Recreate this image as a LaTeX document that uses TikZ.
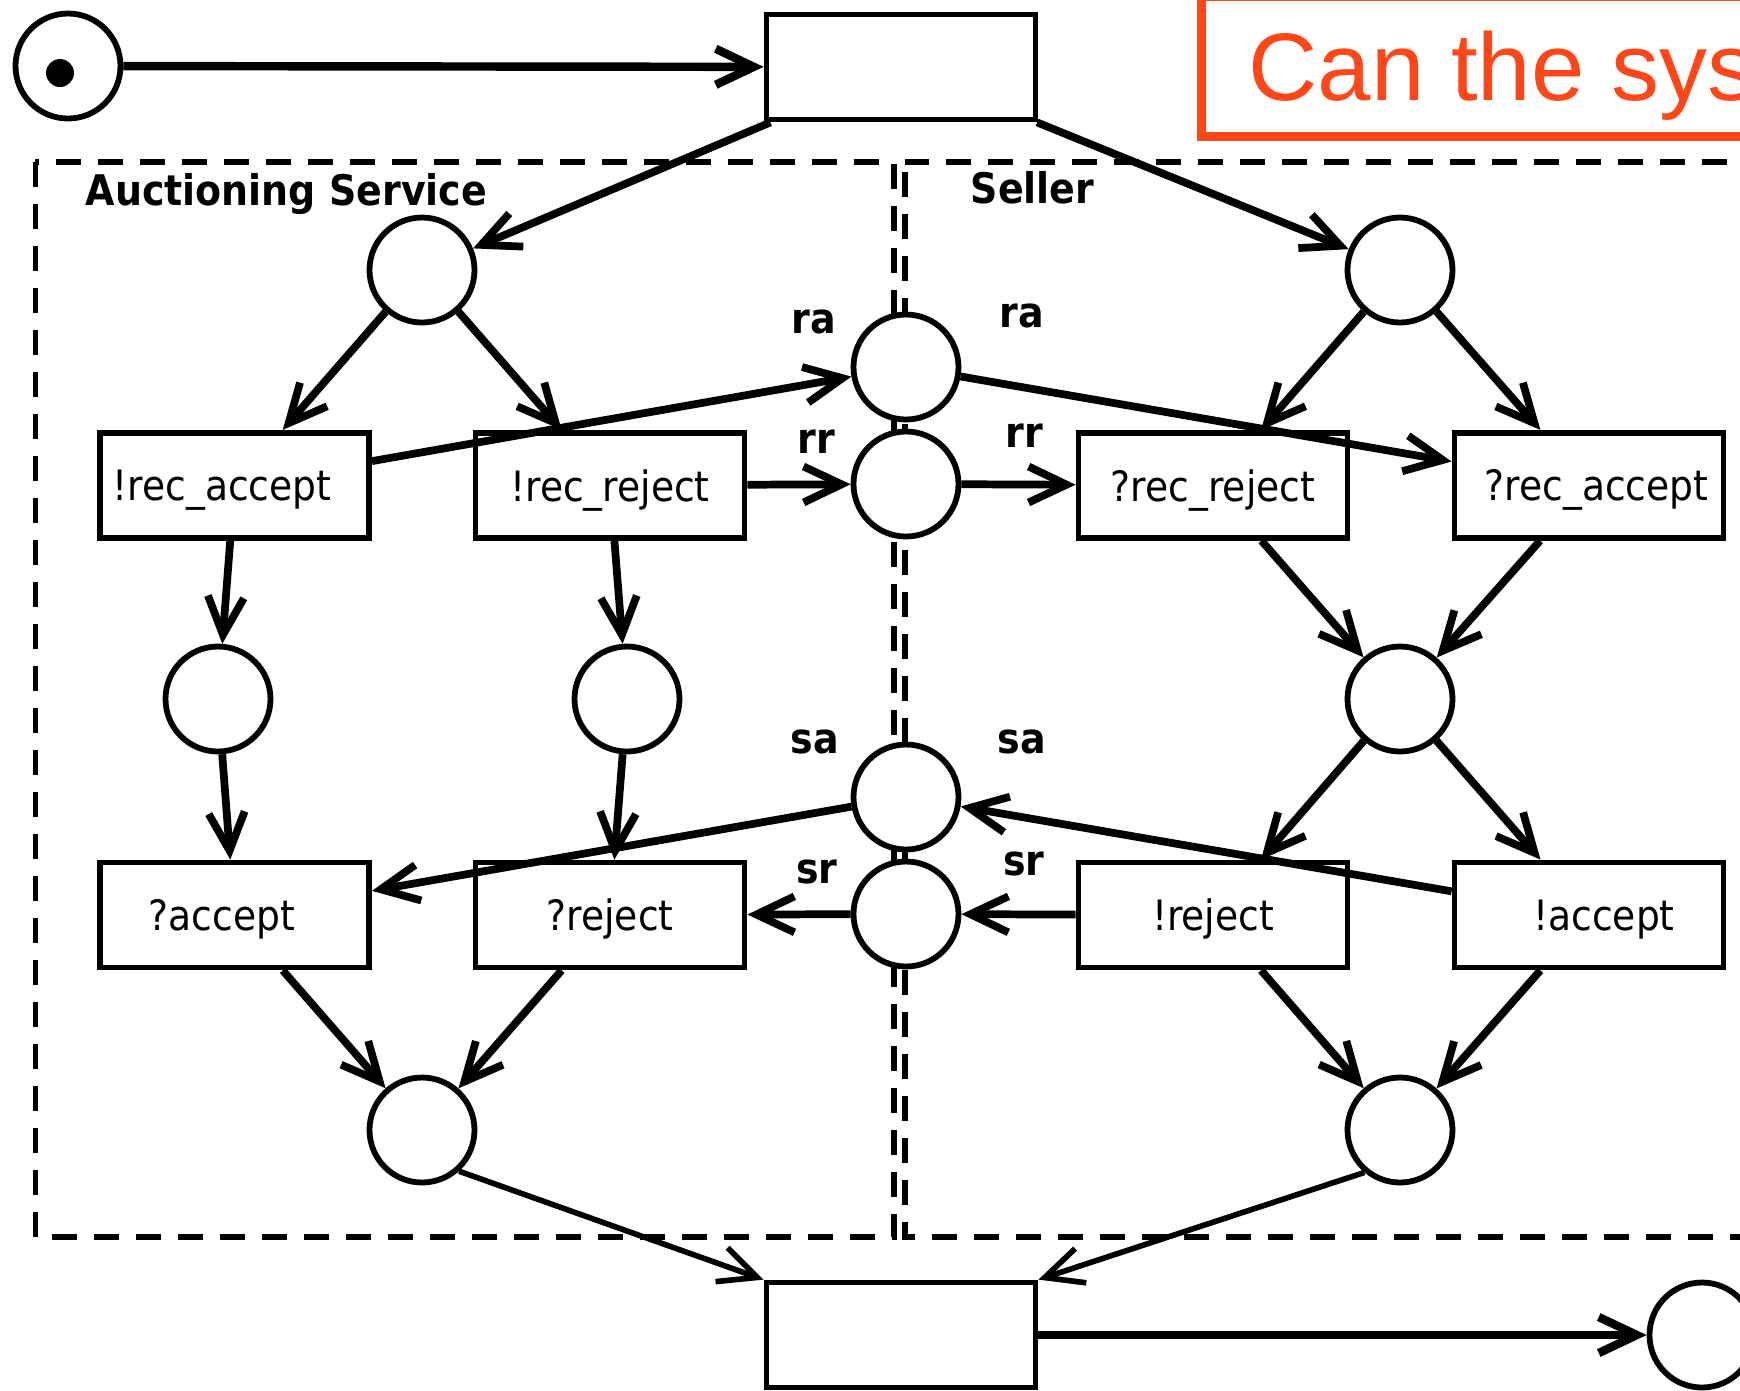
\documentclass[tikz,border=0pt]{standalone}
\usepackage{fontspec}
\usetikzlibrary{arrows.meta}
\newfontfamily\netfont[FakeStretch=0.9]{DejaVu Sans}
\newfontfamily\askfont{Liberation Sans}
\definecolor{askred}{RGB}{255,70,25}

\begin{document}
\begin{tikzpicture}[
        place/.style={draw,circle,line width=1.65pt,fill=white,minimum size=1.05cm,inner sep=0pt},
        trans/.style={draw,rectangle,line width=1.65pt,fill=white,minimum width=2.69cm,minimum height=1.05cm,inner sep=0pt,text depth=0pt,font=\netfont\fontsize{11.9}{14}\selectfont},
        arc/.style={line width=2.2pt,-{Straight Barb[length=3.8mm,width=3.6mm]}},
        chan/.style={font=\netfont\bfseries\fontsize{12}{14}\selectfont,anchor=base},
        part/.style={line width=1.5pt,dash pattern=on 0.25cm off 0.17cm}
    ]
        \path[use as bounding box,clip] (0,0) rectangle (17.40,-13.90);

        % question box
        \draw[askred,line width=0.09cm] (12.015,0.04) rectangle (18,-1.36);
        \node[anchor=base west,text=askred,inner sep=0pt,font=\askfont\fontsize{27.3}{30}\selectfont] (ask) at (12.48,-1.00) {Can the sys};

        % the two partners
        \draw[part] (0.355,-1.62) rectangle (8.94,-12.37);
        \draw[part,dash phase=0.32cm] (9.05,-1.62) rectangle (18,-12.37);
        \node[chan,anchor=base west,inner sep=0pt] (auction) at (0.85,-2.05) {Auctioning Service};
        \node[chan,anchor=base west,inner sep=0pt] (seller) at (9.70,-2.03) {Seller};

        % places
        \node[place] (start) at (0.68,-0.66) {};
        \fill (0.60,-0.73) circle [radius=0.14];
        \node[place] (pa1) at (4.22,-2.70) {};
        \node[place] (ps1) at (14.00,-2.70) {};
        \node[place] (ra) at (9.06,-3.67) {};
        \node[place] (rr) at (9.06,-4.84) {};
        \node[place] (sa) at (9.06,-7.97) {};
        \node[place] (sr) at (9.06,-9.14) {};
        \node[place] (pa2) at (2.18,-6.99) {};
        \node[place] (pa3) at (6.27,-6.99) {};
        \node[place] (ps2) at (14.00,-6.99) {};
        \node[place] (pa4) at (4.22,-11.30) {};
        \node[place] (ps4) at (14.00,-11.30) {};
        \node[place] (final) at (17.02,-13.35) {};

        % transitions
        \node[trans] (t0) at (9.01,-0.67) {};
        \node[trans] (sendra) at (2.345,-4.853) {\hspace{-0.25cm}!rec\_accept};
        \node[trans] (sendrr) at (6.10,-4.853) {!rec\_reject};
        \node[trans] (getrr) at (12.13,-4.853) {?rec\_reject};
        \node[trans] (getra) at (15.89,-4.853) {\hspace{0.15cm}?rec\_accept};
        \node[trans] (getsa) at (2.345,-9.15) {\hspace{-0.25cm}?accept};
        \node[trans] (getsr) at (6.10,-9.15) {?reject};
        \node[trans] (sendsr) at (12.13,-9.15) {!reject};
        \node[trans] (sendsa) at (15.89,-9.15) {\hspace{0.3cm}!accept};
        \node[trans] (t1) at (9.01,-13.35) {};

        % channel labels
        \node[chan] (lra) at (8.14,-3.33) {ra};
        \node[chan] (rra) at (10.22,-3.27) {ra};
        \node[chan] (lrr) at (8.16,-4.53) {rr};
        \node[chan] (rrr) at (10.24,-4.47) {rr};
        \node[chan] (lsa) at (8.15,-7.53) {sa};
        \node[chan] (rsa) at (10.22,-7.53) {sa};
        \node[chan] (lsr) at (8.17,-8.83) {sr};
        \node[chan] (rsr) at (10.24,-8.75) {sr};

        % arcs
        \draw[arc,line width=2.4pt] (start) -- (t0);
        \draw[arc] (t0) -- (pa1);
        \draw[arc] (t0) -- (ps1);
        \draw[arc] (pa1) -- (sendra);
        \draw[arc] (pa1) -- (sendrr);
        \draw[arc] (ps1) -- (getrr);
        \draw[arc] (ps1) -- (getra);
        \draw[arc] (sendra) -- (ra);
        \draw[arc] (ra) -- (getra);
        \draw[arc] (sendrr) -- (rr);
        \draw[arc] (rr) -- (getrr);
        \draw[arc] (sendra) -- (pa2);
        \draw[arc] (sendrr) -- (pa3);
        \draw[arc] (getrr) -- (ps2);
        \draw[arc] (getra) -- (ps2);
        \draw[arc] (pa2) -- (getsa);
        \draw[arc] (pa3) -- (getsr);
        \draw[arc] (ps2) -- (sendsr);
        \draw[arc] (ps2) -- (sendsa);
        \draw[arc] (sendsa) -- (sa);
        \draw[arc] (sa) -- (getsa);
        \draw[arc] (sendsr) -- (sr);
        \draw[arc] (sr) -- (getsr);
        \draw[arc] (getsa) -- (pa4);
        \draw[arc] (getsr) -- (pa4);
        \draw[arc] (sendsr) -- (ps4);
        \draw[arc] (sendsa) -- (ps4);
        \draw[arc,line width=1.6pt] (pa4.-48) -- (t1.north west);
        \draw[arc,line width=1.6pt] (ps4.-130) -- (t1.north east);
        \draw[arc,line width=2.4pt] (t1) -- (final);
    \end{tikzpicture}
\end{document}
